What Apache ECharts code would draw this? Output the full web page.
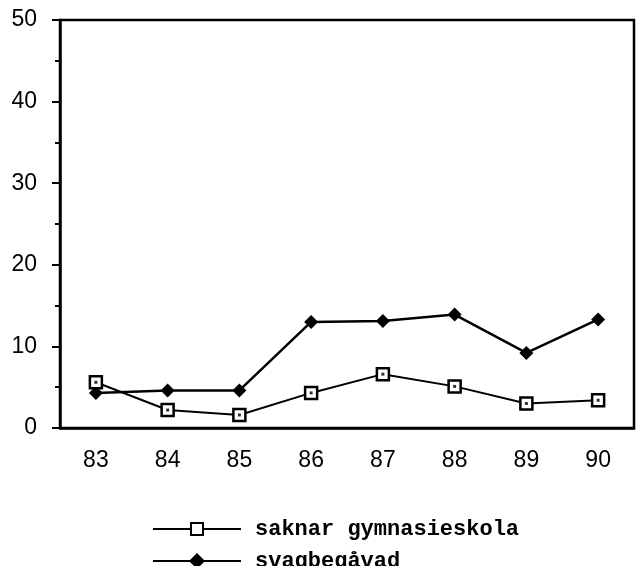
<!DOCTYPE html>
<html>
<head>
<meta charset="utf-8">
<script src="https://cdn.jsdelivr.net/npm/echarts@6/dist/echarts.min.js"></script>
<style>
    html, body {margin:0;padding:0;background:#fff;}
    #chart {width:636px;height:566px;}
</style>
</head>
<body>
<div id="chart"></div>
<script>
    // data
    var years = ['83', '84', '85', '86', '87', '88', '89', '90'];
    var saknarGymnasieskola = [5.6, 2.2, 1.6, 4.3, 6.6, 5.1, 3.0, 3.4];
    var svagbegavad = [4.3, 4.6, 4.6, 13.0, 13.1, 13.9, 9.2, 13.3];
    var yTicks = [0, 10, 20, 30, 40, 50];
    var seriesNames = ['saknar gymnasieskola', 'svagbegåvad'];

    var labelFont = {color: '#000', fontFamily: 'Liberation Sans', fontSize: 23};

    // one legend per row so they stack like the picture
    function legendRow(name, top, iconH) {
        return {
            orient: 'vertical',
            left: 147,
            top: top,
            itemWidth: 88,
            itemHeight: iconH,
            textStyle: {color: '#000', fontFamily: 'Liberation Mono', fontWeight: 'bold', fontSize: 22, padding: [0, 0, 0, 9]},
            data: [name]
        };
    }

    var myChart = echarts.init(document.getElementById('chart'), null, {renderer: 'canvas'});
    var option = {
        animation: false,
        backgroundColor: '#fff',
        grid: {left: 60, right: 2, top: 20, bottom: 138, show: true, borderColor: '#000', borderWidth: 2.5},
        legend: [legendRow(seriesNames[0], 513, 15), legendRow(seriesNames[1], 545, 20)],
        xAxis: [{
            type: 'category',
            position: 'bottom',
            data: years,
            boundaryGap: true,
            axisLine: {lineStyle: {color: '#000', width: 2.5}},
            axisTick: {alignWithLabel: true, length: 10, lineStyle: {color: '#000', width: 2.5}},
            axisLabel: Object.assign({margin: 21}, labelFont)
        }, {
            // short ticks between the years
            type: 'category',
            position: 'bottom',
            data: years,
            boundaryGap: true,
            axisLine: {show: false},
            axisTick: {length: 5, lineStyle: {color: '#000', width: 2}},
            axisLabel: {show: false}
        }],
        yAxis: {
            type: 'value',
            min: yTicks[0],
            max: yTicks[yTicks.length - 1],
            interval: 10,
            axisLine: {show: true, lineStyle: {color: '#000', width: 2.5}},
            axisTick: {show: true, length: 8, lineStyle: {color: '#000', width: 2}},
            minorTick: {show: true, splitNumber: 2, length: 5, lineStyle: {color: '#000', width: 2}},
            splitLine: {show: false},
            axisLabel: Object.assign({margin: 23, padding: [5, 0, 0, 0]}, labelFont)
        },
        series: [{
            name: seriesNames[1],
            type: 'line',
            data: svagbegavad,
            symbol: 'diamond',
            symbolSize: 14,
            lineStyle: {color: '#000', width: 2.5},
            itemStyle: {color: '#000'}
        }, {
            name: seriesNames[0],
            type: 'line',
            data: saknarGymnasieskola,
            symbol: 'rect',
            symbolSize: 12,
            lineStyle: {color: '#000', width: 2},
            itemStyle: {color: '#fff', borderColor: '#000', borderWidth: 2.5}
        }, {
            // dot inside the open squares
            name: 'dot',
            type: 'scatter',
            data: saknarGymnasieskola,
            symbol: 'rect',
            symbolSize: 3,
            itemStyle: {color: '#000'},
            z: 5
        }]
    };
    myChart.setOption(option);
</script>
</body>
</html>
